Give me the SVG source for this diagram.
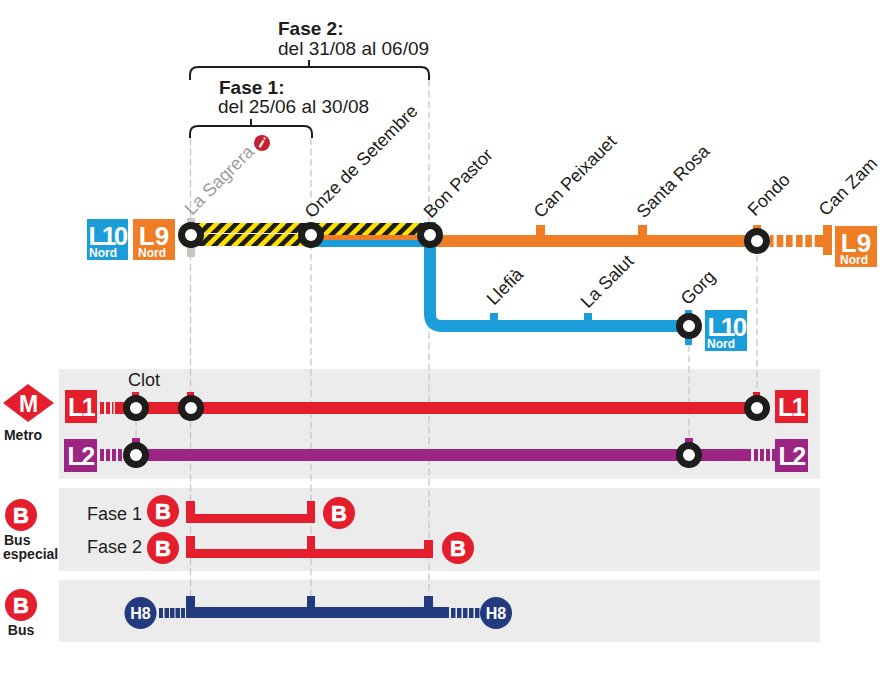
<svg xmlns="http://www.w3.org/2000/svg" width="880" height="673" viewBox="0 0 880 673">
<style>
text{font-family:"Liberation Sans",Arial,sans-serif;fill:#1d1d1b}
.st{font-size:18px}
.hd{font-size:19px}
.b{font-weight:bold}
.w{fill:#fff;font-weight:bold;text-anchor:middle}
.lab{font-size:26px}
.l10{letter-spacing:-2.6px}
.lx{font-size:25px;letter-spacing:-1.5px}
.nord{font-size:12px}
.gd{fill:none;stroke:#c4c4c4;stroke-width:1.2;stroke-dasharray:7 3.5}
.br{fill:none;stroke:#1d1d1b;stroke-width:2}
.ring{fill:#fff;stroke:#1d1d1b;stroke-width:7}
.o{fill:#ee7d26}.c{fill:#1b9dd9}.r{fill:#e41e2d}.p{fill:#9c2583}.n{fill:#233a7e}
.pn{fill:#ececec}
.bl{font-size:22px;stroke:#fff;stroke-width:.6px}
</style>
<defs>
<pattern id="hz" width="9.4" height="9.4" patternUnits="userSpaceOnUse" patternTransform="rotate(45 190 223)">
<rect width="9.4" height="9.4" fill="#1d1d1b"/><rect width="4.7" height="9.4" fill="#ffdf00"/>
</pattern>
<g id="ringm"><circle r="9.5" class="ring"/></g>
</defs>

<g id="panels">
<rect class="pn" x="59" y="369" width="761" height="110"/>
<rect class="pn" x="59" y="488" width="761" height="83"/>
<rect class="pn" x="59" y="580" width="761" height="62"/>
</g>

<g id="connectors">
<g id="guides">
<path class="gd" d="M190.500 138V596"/>
<path class="gd" d="M311 138V596"/>
<path class="gd" d="M429 80V596"/>
<path class="gd" d="M689 345V438"/>
<path class="gd" d="M757 255V392"/>
<path class="gd" d="M136 420V440"/>
</g>
<g id="brackets">
<path class="br" d="M190 80V75Q190 67 198 67H421Q429 67 429 75V80M309 67V60"/>
<path class="br" d="M190 138V134Q190 126 198 126H304Q312 126 312 134V138M251 126V119"/>
</g>
<g id="line-l9">
<rect class="o" x="311" y="235" width="119" height="5"/>
<rect class="o" x="430" y="235" width="327" height="12"/>
<rect class="o" x="536" y="225" width="9" height="12"/>
<rect class="o" x="638" y="225" width="9" height="12"/>
<rect class="o" x="753" y="225" width="8" height="12"/>
<path class="o" d="M770 235h3.500v12h-3.500zM776.700 235h6.600v12h-6.600zM786 235h6.600v12H786zM796 235h6.600v12H796zM805.300 235h6.600v12h-6.600zM814.700 235h8.300v12h-8.300z"/>
<rect class="o" x="823" y="225" width="9" height="30"/>
</g>
<g id="line-l10">
<rect class="c" x="311" y="240" width="125" height="7"/>
<path d="M430 222V314Q430 326 442 326H689" fill="none" stroke="#1b9dd9" stroke-width="12"/>
<rect class="c" x="490" y="313" width="8" height="10"/>
<rect class="c" x="584" y="313" width="8" height="10"/>
<rect class="c" x="685" y="310" width="7" height="35"/>
</g>
<g id="line-works">
<rect x="190" y="223" width="121" height="23" fill="url(#hz)"/>
<rect x="190" y="233" width="121" height="1" fill="#eee"/>
<rect x="311" y="223" width="119" height="12" fill="url(#hz)"/>
</g>
<g id="line-l1">
<rect class="r" x="115" y="402" width="642" height="12"/>
<path class="r" d="M100 402h4v12h-4zM106 402h4v12h-4zM112 402h1.500v12H112z"/>
<rect class="r" x="132" y="392" width="7" height="8"/>
<rect class="r" x="187" y="392" width="7" height="8"/>
<rect class="r" x="753" y="392" width="7" height="8"/>
</g>
<g id="line-l2">
<rect class="p" x="124" y="449" width="627" height="12"/>
<path class="p" d="M100 449h4v12h-4zM106 449h4v12h-4zM112 449h4v12h-4zM118 449h4v12h-4zM754 449h4v12h-4zM760 449h4v12h-4zM766 449h4v12h-4zM772 449h3v12h-3z"/>
<rect class="p" x="132" y="438" width="8" height="8"/>
<rect class="p" x="685" y="438" width="8" height="8"/>
</g>
<g id="bus-fase1">
<path class="r" d="M186 501h9v13h112v-13h8v22H186z"/>
</g>
<g id="bus-fase2">
<path class="r" d="M186 536h9v13h112v-13h8v13h109v-9h9v18H186z"/>
</g>
<g id="bus-h8">
<path class="n" d="M186 596h9v11h112v-11h8v11h109v-11h9v11h16v11H186z"/>
<path class="n" d="M159 608h4v10h-4zM164.500 608h4.500v10h-4.500zM170 608h4.500v10H170zM175.500 608h4.500v10h-4.500zM181 608h4v10h-4zM451 608h4.500v10H451zM457 608h4.500v10H457zM463 608h4.500v10H463zM469 608h4.500v10H469zM475 608h4.500v10H475z"/>
</g>
</g>

<g id="fase2-label">
<text class="hd b" x="278" y="35">Fase 2:</text>
<text class="hd" x="278" y="55">del 31/08 al 06/09</text>
</g>
<g id="fase1-label">
<text class="hd b" x="219" y="94">Fase 1:</text>
<text class="hd" x="218" y="113">del 25/06 al 30/08</text>
</g>

<g id="badge-l10-left"><rect class="c" x="87" y="219" width="41" height="41"/><text class="w lab l10" x="107" y="245">L10</text><text class="w nord" x="103" y="257">Nord</text></g>
<g id="badge-l9-left"><rect class="o" x="133" y="219" width="42" height="41"/><text class="w lab" x="154" y="245">L9</text><text class="w nord" x="152" y="257">Nord</text></g>
<g id="st-la-sagrera"><rect x="187" y="218" width="8" height="39" fill="#c6c6c6"/><use href="#ringm" x="191" y="235"/><text class="st" transform="translate(192 216) rotate(-45)" style="fill:#9d9d9c">La Sagrera</text></g>
<g id="info"><circle cx="262" cy="143" r="8" fill="#c4202f"/><text class="w" transform="translate(262 143) rotate(30)" y="5" font-size="15">i</text></g>
<g id="st-onze"><use href="#ringm" x="311" y="235"/><text class="st" transform="translate(312 219) rotate(-45)">Onze de Setembre</text></g>
<g id="st-bon-pastor"><use href="#ringm" x="430" y="235"/><text class="st" transform="translate(431 219) rotate(-45)">Bon Pastor</text></g>
<g id="st-can-peixauet"><text class="st" transform="translate(541 219) rotate(-45)">Can Peixauet</text></g>
<g id="st-santa-rosa"><text class="st" transform="translate(644 219) rotate(-45)">Santa Rosa</text></g>
<g id="st-fondo"><use href="#ringm" x="757" y="241"/><text class="st" transform="translate(755 217) rotate(-45)">Fondo</text></g>
<g id="st-can-zam"><text class="st" transform="translate(826 217) rotate(-45)">Can Zam</text></g>
<g id="badge-l9-right"><rect class="o" x="835" y="226" width="42" height="41"/><text class="w lab" x="856" y="252">L9</text><text class="w nord" x="854" y="264">Nord</text></g>
<g id="st-llefia"><text class="st" transform="translate(494 306) rotate(-45)">Llefià</text></g>
<g id="st-la-salut"><text class="st" transform="translate(588 309) rotate(-45)">La Salut</text></g>
<g id="st-gorg"><use href="#ringm" x="689" y="326"/><text class="st" transform="translate(688 306) rotate(-45)">Gorg</text></g>
<g id="badge-l10-right"><rect class="c" x="705" y="310" width="42" height="41"/><text class="w lab l10" x="726" y="336">L10</text><text class="w nord" x="721" y="348">Nord</text></g>

<g id="metro-icon"><path d="M3 403L28 384L54 403L28 422Z" class="r"/><text class="w" x="28.500" y="411.500" font-size="23">M</text><text class="b" x="23" y="440" font-size="14" text-anchor="middle">Metro</text></g>
<g id="badge-l1-left"><rect class="r" x="65" y="390" width="32" height="33"/><text class="w lx" x="81" y="416">L1</text></g>
<g id="badge-l1-right"><rect class="r" x="775" y="390" width="33" height="33"/><text class="w lx" x="791" y="415.500">L1</text></g>
<g id="badge-l2-left"><rect class="p" x="64" y="439" width="33" height="33"/><text class="w lx" x="80.500" y="465">L2</text></g>
<g id="badge-l2-right"><rect class="p" x="775" y="439" width="33" height="33"/><text class="w lx" x="791.500" y="465">L2</text></g>
<g id="st-clot"><text class="st" x="128" y="386">Clot</text><use href="#ringm" x="136" y="408"/></g>
<use id="st-sagrera-l1" href="#ringm" x="191" y="408"/>
<use id="st-fondo-l1" href="#ringm" x="757" y="408"/>
<use id="st-clot-l2" href="#ringm" x="136" y="455"/>
<use id="st-gorg-l2" href="#ringm" x="689" y="455"/>

<g id="bus-especial-icon"><circle class="r" cx="21" cy="515" r="16"/><text class="w bl" x="21" y="523">B</text><text class="b" x="4" y="545" font-size="14">Bus</text><text class="b" x="3" y="559" font-size="14">especial</text></g>
<g id="fase1-row"><text class="st" x="87" y="520">Fase 1</text><circle class="r" cx="163" cy="511" r="16"/><text class="w bl" x="163" y="519">B</text></g>
<g id="fase2-row"><text class="st" x="87" y="553">Fase 2</text><circle class="r" cx="163" cy="548" r="16"/><text class="w bl" x="163" y="556">B</text></g>
<g id="fase1-end"><circle class="r" cx="339" cy="513" r="16"/><text class="w bl" x="339" y="521">B</text></g>
<g id="fase2-end"><circle class="r" cx="458" cy="548" r="16"/><text class="w bl" x="458" y="556">B</text></g>
<g id="bus-icon"><circle class="r" cx="21" cy="605" r="16"/><text class="w bl" x="21" y="613">B</text><text class="b" x="21" y="635" font-size="14" text-anchor="middle">Bus</text></g>
<g id="h8-left"><circle class="n" cx="140.500" cy="613" r="16"/><text class="w" x="140.500" y="619" font-size="16">H8</text></g>
<g id="h8-right"><circle class="n" cx="496" cy="613" r="16"/><text class="w" x="496" y="619" font-size="16">H8</text></g>
</svg>
